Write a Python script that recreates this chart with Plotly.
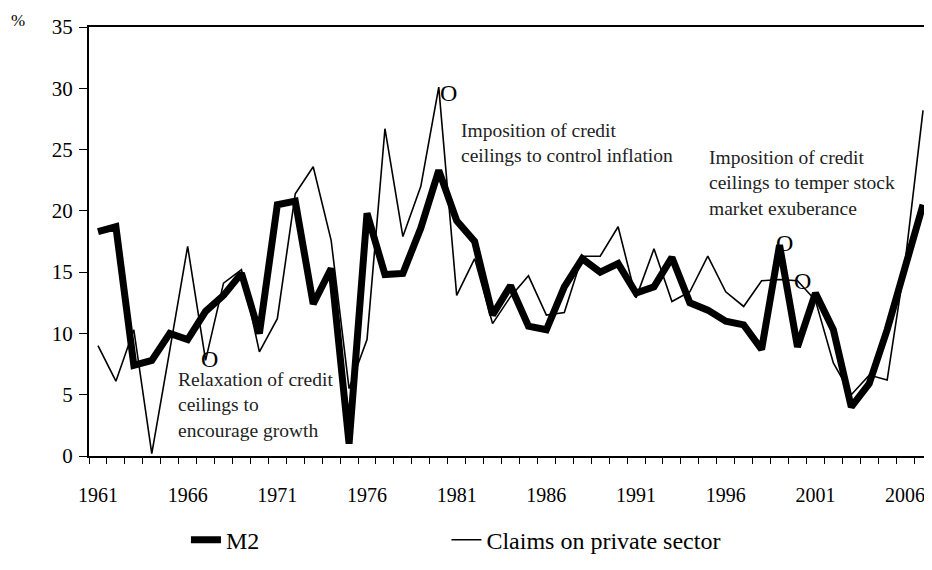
import plotly.graph_objects as go

years = list(range(1961, 2008))

m2 = [18.3, 18.7, 7.4, 7.8, 10.0, 9.5, 11.8, 13.1, 14.9, 10.0,
      20.5, 20.8, 12.4, 15.3, 1.0, 19.8, 14.8, 14.9, 18.6, 23.3,
      19.2, 17.5, 11.5, 13.9, 10.6, 10.3, 13.8, 16.1, 15.0, 15.7,
      13.3, 13.8, 16.2, 12.5, 11.9, 11.0, 10.7, 8.7, 17.2, 8.9,
      13.3, 10.3, 4.0, 5.9, 10.3, 15.4, 20.5]

claims = [9.0, 6.1, 10.3, 0.2, 8.6, 17.1, 7.8, 14.1, 15.2, 8.5,
          11.2, 21.4, 23.6, 17.6, 5.5, 9.5, 26.7, 17.9, 22.0, 30.1,
          13.1, 16.1, 10.8, 13.0, 14.7, 11.5, 11.7, 16.3, 16.3, 18.7,
          12.9, 16.9, 12.6, 13.4, 16.3, 13.4, 12.2, 14.3, 14.4, 14.3,
          12.7, 7.6, 5.0, 6.6, 6.2, 15.8, 28.2]

tick_years = [1961, 1966, 1971, 1976, 1981, 1986, 1991, 1996, 2001, 2006]

# (x, y, text) for the policy notes and the "O" markers
notes = [
    (1965.35, 7.25, "Relaxation of credit<br>ceilings to<br>encourage growth"),
    (1981.15, 27.6, "Imposition of credit<br>ceilings to control inflation"),
    (1994.95, 25.35, "Imposition of credit<br>ceilings to temper stock<br>market exuberance"),
]
markers = [(1967.2, 7.9), (1980.55, 29.6), (1999.3, 17.4), (2000.3, 14.3)]

FONT = "Liberation Serif"

fig = go.Figure()
fig.add_trace(go.Scatter(x=years, y=m2, mode="lines", name="M2", legend="legend",
                         line=dict(color="black", width=7)))
fig.add_trace(go.Scatter(x=years, y=claims, mode="lines", name="Claims on private sector",
                         legend="legend2", line=dict(color="black", width=1.6)))

for x, y, text in notes:
    fig.add_annotation(x=x, y=y, text=text, showarrow=False, xanchor="left", yanchor="top",
                       align="left", font=dict(family=FONT, size=19.5, color="#222"))
for x, y in markers:
    fig.add_annotation(x=x, y=y, text="O", showarrow=False,
                       font=dict(family=FONT, size=24, color="black"))

fig.add_annotation(xref="paper", yref="paper", x=-0.084, y=1.016, text="%", showarrow=False,
                   xanchor="center", yanchor="middle", font=dict(family=FONT, size=17, color="black"))

fig.update_xaxes(range=[1960.5, 2007.5], tickvals=tick_years, ticks="", showgrid=False,
                 showline=True, linecolor="black", linewidth=2, mirror=True, automargin=False,
                 ticklabelstandoff=20, tickfont=dict(family=FONT, size=20, color="black"),
                 minor=dict(ticks="outside", tick0=1960.5, dtick=1, ticklen=6,
                            tickcolor="black", tickwidth=1, showgrid=False),
                 zeroline=False)
fig.update_yaxes(range=[0, 35], dtick=5, ticks="outside", ticklen=8, tickcolor="black",
                 showgrid=False, showline=True, linecolor="black", linewidth=2, automargin=False,
                 ticklabelstandoff=2,
                 tickfont=dict(family=FONT, size=21, color="black"), zeroline=False)

legend_font = dict(family=FONT, size=24, color="black")
# the page body adds an 8px offset, so the figure is drawn 8px smaller
fig.update_layout(
    width=924, height=562,
    margin=dict(l=81, r=0, t=19, b=114),
    plot_bgcolor="white", paper_bgcolor="white",
    showlegend=True,
    legend=dict(orientation="h", x=0.115, y=-0.196, xanchor="left", yanchor="middle",
                font=legend_font),
    legend2=dict(orientation="h", x=0.424, y=-0.196, xanchor="left", yanchor="middle",
                 font=legend_font),
)

fig.write_html("out.html")
